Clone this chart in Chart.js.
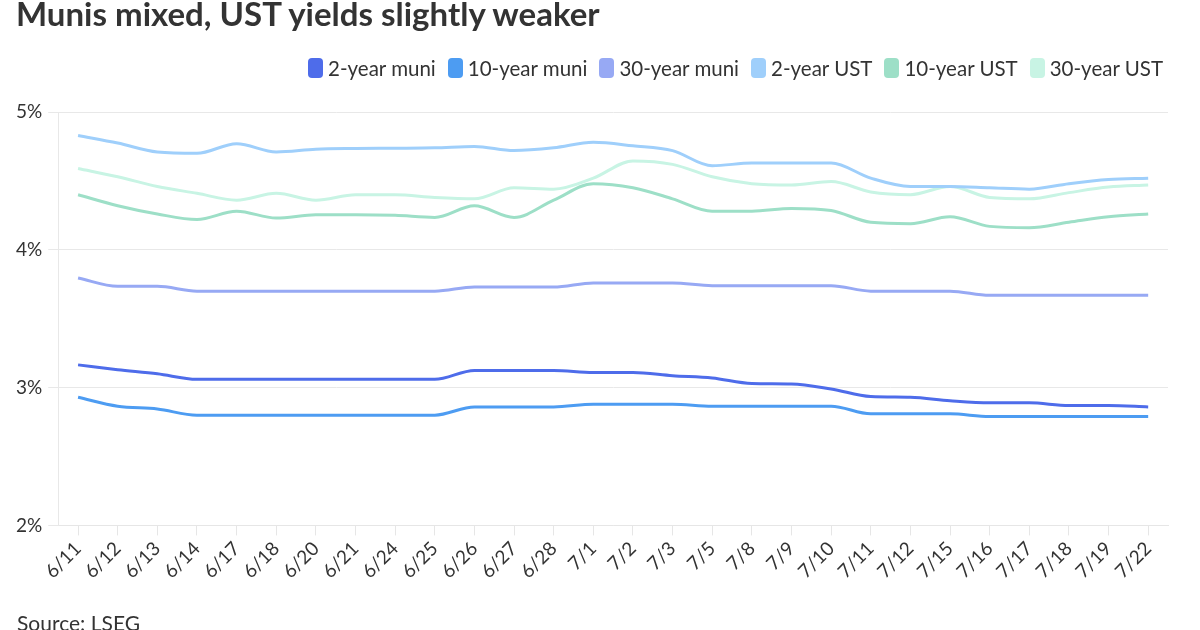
<!DOCTYPE html>
<html>
<head>
<meta charset="utf-8">
<script src="https://cdn.jsdelivr.net/npm/chart.js@4.4.1/dist/chart.umd.min.js"></script>
<style>
html,body{margin:0;padding:0;background:#fff;overflow:hidden;}
#wrap{width:1200px;height:630px;position:relative;overflow:hidden;font-family:Lato,sans-serif;color:#333;}
#c{position:absolute;left:0;top:0;}
#title{position:absolute;left:16px;top:-7px;font-size:33px;font-weight:bold;color:#333;white-space:nowrap;line-height:40px;}
#legend{position:absolute;right:37px;top:56px;display:flex;align-items:center;white-space:nowrap;font-size:20.5px;line-height:24px;color:#333;}
#legend .it{display:flex;align-items:center;margin-left:12px;}
#legend .sw{width:15px;height:20px;border-radius:4px;margin-right:5px;}
#source{position:absolute;left:17px;top:610px;font-size:21px;color:#333;white-space:nowrap;line-height:26px;}
</style>
</head>
<body>
<div id="wrap">
<canvas id="c" width="1200" height="630"></canvas>
<div id="title"></div>
<div id="legend"></div>
<div id="source"></div>
</div>
<script>
const titleText = "Munis mixed, UST yields slightly weaker";
const sourceText = "Source: LSEG";
const categories = ["6/11","6/12","6/13","6/14","6/17","6/18","6/20","6/21","6/24","6/25","6/26","6/27","6/28","7/1","7/2","7/3","7/5","7/8","7/9","7/10","7/11","7/12","7/15","7/16","7/17","7/18","7/19","7/22"];
const muni2 = [3.165,3.13,3.10,3.06,3.06,3.06,3.06,3.06,3.06,3.06,3.125,3.125,3.125,3.11,3.11,3.087,3.07,3.03,3.027,2.99,2.935,2.93,2.905,2.89,2.89,2.87,2.87,2.86];
const muni10 = [2.93,2.865,2.845,2.80,2.80,2.80,2.80,2.80,2.80,2.80,2.86,2.86,2.86,2.88,2.88,2.88,2.865,2.865,2.865,2.865,2.81,2.81,2.81,2.79,2.79,2.79,2.79,2.79];
const muni30 = [3.795,3.735,3.735,3.70,3.70,3.70,3.70,3.70,3.70,3.70,3.73,3.73,3.73,3.76,3.76,3.76,3.74,3.74,3.74,3.74,3.70,3.70,3.70,3.67,3.67,3.67,3.67,3.67];
const ust2 = [4.83,4.775,4.71,4.70,4.77,4.71,4.73,4.735,4.737,4.74,4.75,4.72,4.74,4.78,4.755,4.72,4.61,4.63,4.63,4.63,4.52,4.46,4.46,4.45,4.44,4.48,4.51,4.52];
const ust10 = [4.40,4.32,4.26,4.22,4.28,4.23,4.255,4.255,4.25,4.235,4.32,4.235,4.36,4.48,4.45,4.37,4.28,4.28,4.30,4.285,4.20,4.19,4.24,4.17,4.16,4.20,4.24,4.26];
const ust30 = [4.59,4.53,4.46,4.41,4.36,4.41,4.36,4.40,4.40,4.38,4.37,4.45,4.44,4.52,4.645,4.62,4.53,4.48,4.47,4.495,4.42,4.40,4.46,4.38,4.37,4.415,4.455,4.47];
const yTicks = [2,3,4,5];
const seriesNames = ["2-year muni","10-year muni","30-year muni","2-year UST","10-year UST","30-year UST"];
const seriesColors = ["#4e6cea","#4d9cf2","#97a9f4","#9fcffb","#9ddfc7","#c8f4e4"];
const seriesData = [muni2, muni10, muni30, ust2, ust10, ust30];

document.getElementById('title').textContent = titleText;
document.getElementById('source').textContent = sourceText;
const lg = document.getElementById('legend');
seriesNames.forEach((n,i)=>{
  const it=document.createElement('div'); it.className='it';
  const sw=document.createElement('div'); sw.className='sw'; sw.style.background=seriesColors[i];
  const tx=document.createElement('span'); tx.textContent=n;
  it.appendChild(sw); it.appendChild(tx); lg.appendChild(it);
});

const datasets = seriesNames.map((n,i)=>({
  label:n, data:seriesData[i], borderColor:seriesColors[i], backgroundColor:seriesColors[i],
  borderWidth:3, pointRadius:0, cubicInterpolationMode:'monotone', fill:false
}));

new Chart(document.getElementById('c'), {
  type:'line',
  data:{labels:categories, datasets},
  options:{
    responsive:false, animation:false,
    layout:{padding:{left:10,right:32,top:112,bottom:45}},
    plugins:{legend:{display:false}, title:{display:false}, tooltip:{enabled:false}},
    scales:{
      x:{offset:true,
        grid:{drawOnChartArea:false, drawTicks:true, tickLength:10, color:'#e6e6e6'},
        border:{display:true, color:'#e6e6e6'},
        ticks:{minRotation:45, maxRotation:45, color:'#333', font:{family:'Lato', size:19}, autoSkip:false, padding:2}
      },
      y:{min:2, max:5,
        afterBuildTicks:(s)=>{s.ticks = yTicks.map(v=>({value:v}));},
        grid:{color:'#e8e8e8', tickLength:10},
        border:{display:true, color:'#e8e8e8'},
        ticks:{color:'#333', font:{family:'Lato', size:19}, padding:6, callback:v=>v+'%'}
      }
    }
  }
});
</script>
</body>
</html>
